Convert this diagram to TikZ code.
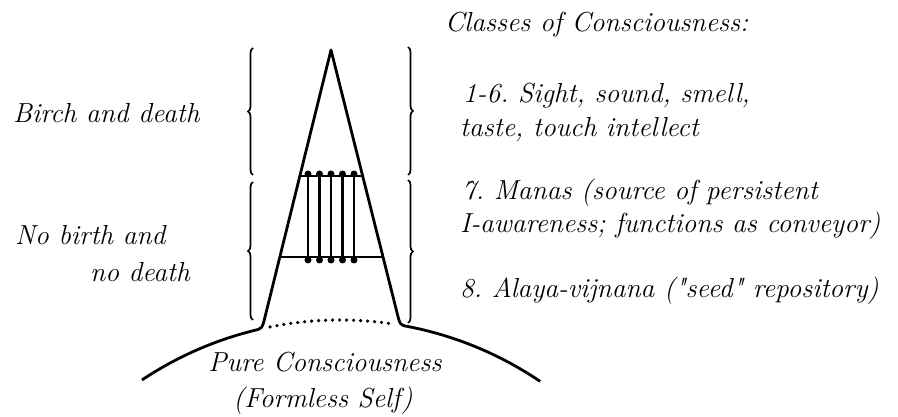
\documentclass[tikz,border=0pt]{standalone}
\usepackage{xcolor}
\usepackage{tikz}
\usetikzlibrary{calc, decorations.pathreplacing}

\begin{document}
\frenchspacing
\begin{tikzpicture}[x=1pt, y=1pt,
    font=\fontsize{27.5}{33}\selectfont\itshape,
    cone/.style={line width=2.8pt, line join=round},
    rung/.style={line width=2.8pt},
    knot/.style={circle, fill, inner sep=0pt, minimum size=7pt},
    span/.style={decorate, decoration={brace, amplitude=5pt}, line width=1.7pt},
    txt/.style={anchor=base west, inner sep=0pt},
    ctxt/.style={anchor=base, inner sep=0pt}]
    \useasboundingbox (0,0) rectangle (898,417);
    % --- ground arc and cone ---
    \def\R{357}
    \coordinate (c) at (340,-260);
    \coordinate (apex) at (331,367);
    \coordinate (lf) at ($(c)+(102.6:\R)$);
    \coordinate (rf) at ($(c)+(80.3:\R)$);
    \draw[cone] ($(c)+(123.7:\R)$) arc[start angle=123.7, end angle=104, radius=\R]
      .. controls (lf) .. ($(lf)!12pt!(apex)$) -- (apex) -- ($(rf)!12pt!(apex)$)
      .. controls (rf) .. ($(c)+(79:\R)$) arc[start angle=79, end angle=55.9, radius=\R];
    \draw[line width=3.6pt, dash pattern=on 0pt off 7pt, line cap=round]
      ($(c)+(101.3:\R)$) arc[start angle=101.3, end angle=81.5, radius=\R];
    % --- ladder ---
    \coordinate (tl) at (299.8,241); \coordinate (tr) at (362.6,241);
    \coordinate (bl) at (279.7,160); \coordinate (br) at (383,160);
    \draw[rung] (tl) -- (tr);
    \draw[rung] (bl) -- (br);
    \foreach \x [count=\i] in {308,319.5,331,342.5,354} {
      \node[knot] (t\i) at (\x,243) {};
      \node[knot] (b\i) at (\x,157) {};
      \draw[rung] (t\i.center) -- (b\i.center);
    }
    % --- braces ---
    \draw[span] (253,97) -- (253,235);
    \draw[span] (253,242) -- (253,369);
    \draw[span] (408,370) -- (408,242);
    \draw[span] (408,237) -- (408,94);
    % --- labels ---
    \node[txt] (title) at (445,385) {Classes of Consciousness:};
    \node[txt] (s1) at (463,314) {1-6. Sight, sound, smell,};
    \node[txt] (s2) at (460,280) {taste, touch intellect};
    \node[txt] (m1) at (462,217) {7. Manas (source of persistent};
    \node[txt] (m2) at (460,184) {I-awareness; functions as conveyor)};
    \node[txt] (a1) at (460,119) {8. Alaya-vijnana (\textquotedbl seed\textquotedbl\ repository)};
    \node[txt] (bd) at (13,294) {Birch and death};
    \node[txt] (nb1) at (15,172) {No birth and};
    \node[txt] (nb2) at (90,135) {no death};
    \node[ctxt] (pure) at (325,45) {Pure Consciousness};
    \node[ctxt] (self) at (323,9) {(Formless Self)};
\end{tikzpicture}
\end{document}
